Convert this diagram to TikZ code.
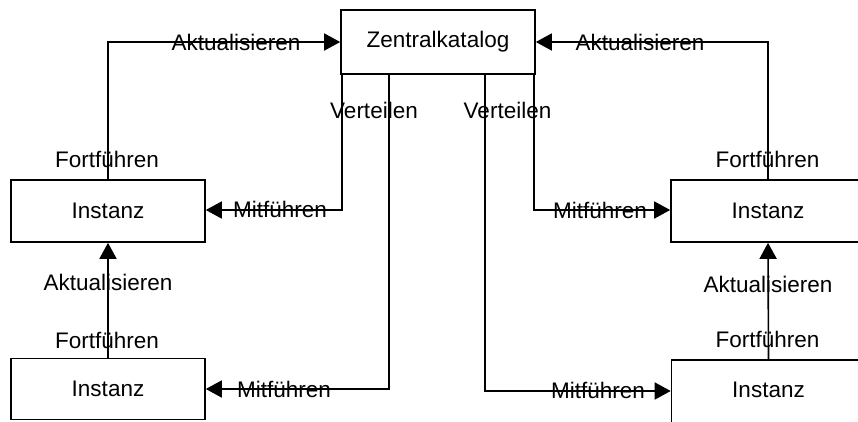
\documentclass[tikz,border=0pt]{standalone}
\usepackage{fontspec}
\setmainfont{Liberation Sans}
\usetikzlibrary{arrows.meta}
\begin{document}
\begin{tikzpicture}[x=1pt,y=-1pt,
  font=\fontsize{22.5}{26}\selectfont,
  boxnode/.style={draw,line width=1.6pt,minimum width=194pt,minimum height=62pt,inner sep=0pt,anchor=center},
  conn/.style={line width=1.6pt,-{Triangle[length=16pt,width=17pt]}},
  lbl/.style={inner sep=0pt,anchor=base}]
\useasboundingbox (0,0) rectangle (858,421);
\clip (0,0) rectangle (858,421);
\node[boxnode,minimum height=64pt] (zk) at (438,42) {Zentralkatalog};
\node[boxnode] (lt) at (108,211) {Instanz};
\node[boxnode,minimum height=61pt] (lb) at (108,389) {Instanz};
\node[boxnode,minimum width=202pt,minimum height=62pt] (rt) at (772,211) {};
\node[boxnode,minimum width=202pt,minimum height=66pt] (rb) at (772.5,393) {};
\node (rttext) at (768,211) {Instanz};
\node (rbtext) at (768.5,389.5) {Instanz};
% connectors
\draw[conn] (lt.north) |- (zk.west);
\draw[conn] ([xshift=-4pt]rt.north) |- (zk.east);
\draw[conn] ([xshift=2pt]zk.south west) |- ([yshift=1pt]lt.east);
\draw[conn] ([xshift=-49pt]zk.south) |- (lb.east);
\draw[conn] ([xshift=47pt]zk.south) |- ([yshift=2pt]rb.west);
\draw[conn] ([xshift=-2pt]zk.south east) |- ([yshift=1pt]rt.west);
\draw[conn] (lb.north) -- (lt.south);
\draw[conn] ([xshift=-4pt]rb.north) -- ([xshift=-4pt]rt.south);
% labels
\node[lbl] (akt1) at (236,50) {Aktualisieren};
\node[lbl] (fort1) at (107,167) {Fortführen};
\node[lbl] (vert1) at (374,118) {Verteilen};
\node[lbl] (mit1) at (280,217) {Mitführen};
\node[lbl] (mit2) at (284,397) {Mitführen};
\node[lbl] (vert2) at (507.5,118) {Verteilen};
\node[lbl] (mit3) at (598,398) {Mitführen};
\node[lbl] (mit4) at (600,218) {Mitführen};
\node[lbl] (akt2) at (640,50) {Aktualisieren};
\node[lbl] (fort2) at (767.5,167) {Fortführen};
\node[lbl] (akt3) at (108,290) {Aktualisieren};
\node[lbl] (fort3) at (107,348) {Fortführen};
\node[lbl] (akt4) at (768,292) {Aktualisieren};
\node[lbl] (fort4) at (767.5,347) {Fortführen};
\end{tikzpicture}
\end{document}
